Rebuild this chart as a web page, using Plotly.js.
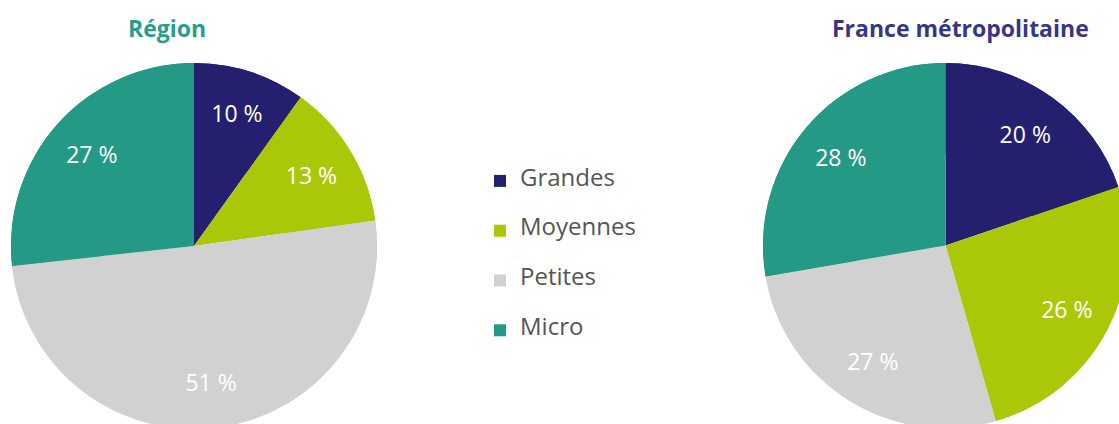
<!DOCTYPE html>
<html>
<head>
<meta charset="utf-8">
<script src="https://cdn.plot.ly/plotly-3.0.1.min.js"></script>
<style>
html,body{margin:0;padding:0;overflow:hidden;background:#fff;}
#chart{width:1140px;height:440px;}
</style>
</head>
<body>
<div id="chart"></div>
<script>
// Data
const categories = ["Grandes", "Moyennes", "Petites", "Micro"];
const regionValues = [10, 13, 51, 27];
const franceValues = [20, 26, 27, 28];
const titles = ["Région", "France métropolitaine"];

const colors = ["#241f6f", "#abc808", "#d1d1d1", "#249a86"];
const W = 1140, H = 440;

// legend labels with a taller row (blank lines above/below, larger visible text)
const legendLabels = categories.map(c => '\u200b<br><span style="font-size:24px">' + c + '</span><br>\u200b');

// base: full pie (no text); top: ring carrying the labels so they sit towards the rim
function pieBase(values, dom) {
  return {
    type: 'pie', labels: legendLabels, values: values,
    sort: false, direction: 'clockwise', rotation: 0,
    marker: {colors: colors, line: {width: 0}},
    textinfo: 'none', hoverinfo: 'none', showlegend: false,
    automargin: false, domain: dom
  };
}
function pieRing(values, dom, showlegend) {
  return {
    type: 'pie', labels: legendLabels, values: values,
    sort: false, direction: 'clockwise', rotation: 0, hole: 0.5,
    marker: {colors: colors, line: {width: 0}},
    texttemplate: '%{value} %',
    textposition: 'inside',
    insidetextorientation: 'horizontal',
    textfont: {family: 'Open Sans, sans-serif', size: 23, color: '#ffffff'},
    hoverinfo: 'none', showlegend: showlegend,
    automargin: false, domain: dom
  };
}

const domL = {x: [11 / W, 377 / W], y: [1 - 429 / H, 1 - 63 / H]};
const domR = {x: [763 / W, 1128 / W], y: [1 - 428 / H, 1 - 63 / H]};

const data = [
  pieBase(regionValues, domL),
  pieBase(franceValues, domR),
  pieRing(regionValues, domL, true),
  pieRing(franceValues, domR, false)
];

const layout = {
  width: W, height: H,
  margin: {l: 0, r: 0, t: 0, b: 0},
  paper_bgcolor: '#ffffff',
  showlegend: true,
  legend: {
    x: 480 / W, xanchor: 'left',
    y: 1 - 151 / H, yanchor: 'top',
    font: {family: 'Open Sans, sans-serif', size: 12, color: '#555555'},
    bgcolor: 'rgba(0,0,0,0)',
    traceorder: 'normal'
  },
  annotations: [
    {text: '<b>' + titles[0] + '</b>', x: 167 / W, y: 1 - 28 / H, xref: 'paper', yref: 'paper',
     xanchor: 'center', yanchor: 'middle', showarrow: false,
     font: {family: 'Open Sans, sans-serif', size: 23, color: '#2a9d88'}},
    {text: '<b>' + titles[1] + '</b>', x: 960 / W, y: 1 - 28 / H, xref: 'paper', yref: 'paper',
     xanchor: 'center', yanchor: 'middle', showarrow: false,
     font: {family: 'Open Sans, sans-serif', size: 23, color: '#363586'}}
  ]
};

Plotly.newPlot('chart', data, layout, {displayModeBar: false, staticPlot: true});
</script>
</body>
</html>
